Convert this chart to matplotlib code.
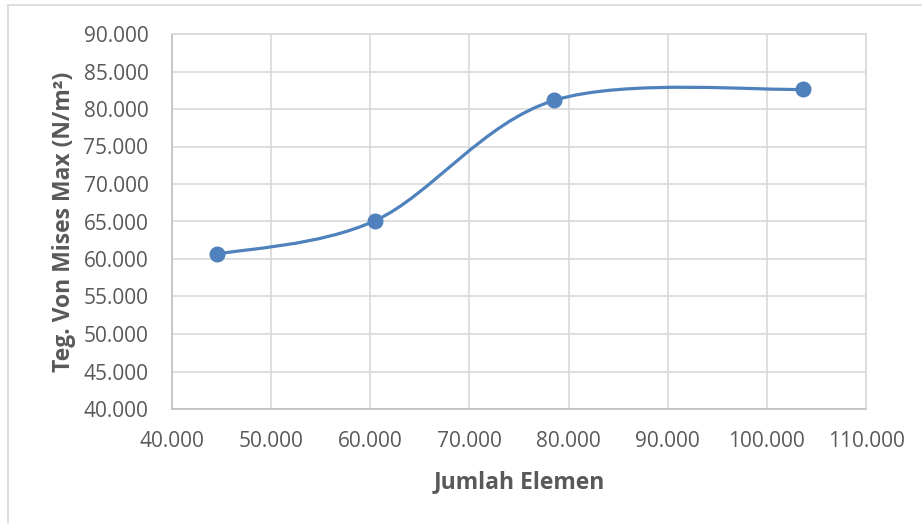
import numpy as np
import matplotlib
matplotlib.use('Agg')
import matplotlib.pyplot as plt
from matplotlib.path import Path
from matplotlib.patches import PathPatch
from matplotlib.lines import Line2D
from matplotlib.ticker import FuncFormatter

# values
jumlah_elemen = [44500, 60480, 78560, 103620]
teg_von_mises = [60630, 65110, 81160, 82630]

x_label = 'Jumlah Elemen'
y_label = 'Teg. Von Mises Max (N/m²)'

line_col = '#4f81bd'
text_col = '#595959'
grid_col = '#d9d9d9'

plt.rcParams['font.family'] = ['Open Sans', 'DejaVu Sans']


def smooth_path(xs, ys):
    '''
    excel-like smoothed line: cubic bezier segments, catmull-rom control points
    '''
    p = np.column_stack([xs, ys]).astype(float)
    ext = np.vstack([p[0], p, p[-1]])
    verts = [p[0]]
    codes = [Path.MOVETO]
    for i in range(len(p) - 1):
        c1 = ext[i + 1] + (ext[i + 2] - ext[i]) / 6.0
        c2 = ext[i + 2] - (ext[i + 3] - ext[i + 1]) / 6.0
        verts += [c1, c2, ext[i + 2]]
        codes += [Path.CURVE4] * 3
    return Path(verts, codes)


def thousands(v, pos):
    return '{:,.0f}'.format(v).replace(',', '.')


fig = plt.figure(figsize=(9.22, 5.24), dpi=100)
ax = fig.add_axes([172/922, 1 - 409/524, (866-172)/922, (409-34)/524])

ax.add_patch(PathPatch(smooth_path(jumlah_elemen, teg_von_mises), facecolor='none',
                       edgecolor=line_col, lw=2.3, capstyle='round', zorder=3))
ax.plot(jumlah_elemen, teg_von_mises, ls='none', marker='o', ms=10.5,
        color=line_col, zorder=4)

ax.set_xlim(40000, 110000)
ax.set_ylim(40000, 90000)
ax.set_xticks(np.arange(40000, 110001, 10000))
ax.set_yticks(np.arange(40000, 90001, 5000))
ax.xaxis.set_major_formatter(FuncFormatter(thousands))
ax.yaxis.set_major_formatter(FuncFormatter(thousands))

ax.grid(True, color=grid_col, lw=1.2)
ax.set_axisbelow(True)
for s in ax.spines.values():
    s.set_color(grid_col)
    s.set_linewidth(1.2)
ax.spines['left'].set_color('#bfbfbf')
ax.spines['bottom'].set_color('#bfbfbf')
ax.tick_params(length=0, labelsize=15, colors=text_col)
ax.tick_params(axis='y', pad=17)
ax.tick_params(axis='x', pad=15.5)

ax.set_xlabel(x_label, fontsize=16.5, fontweight='bold', color=text_col, labelpad=13)
ax.set_ylabel(y_label, fontsize=16.5, fontweight='bold', color=text_col, labelpad=5.5)

# chart area border (only top/left show in the crop)
fig.add_artist(Line2D([8/922, 1], [1 - 5/524, 1 - 5/524], color=grid_col, lw=1.2))
fig.add_artist(Line2D([8/922, 8/922], [0, 1 - 5/524], color=grid_col, lw=1.2))

fig.savefig('out.png', dpi=100, facecolor='white')
